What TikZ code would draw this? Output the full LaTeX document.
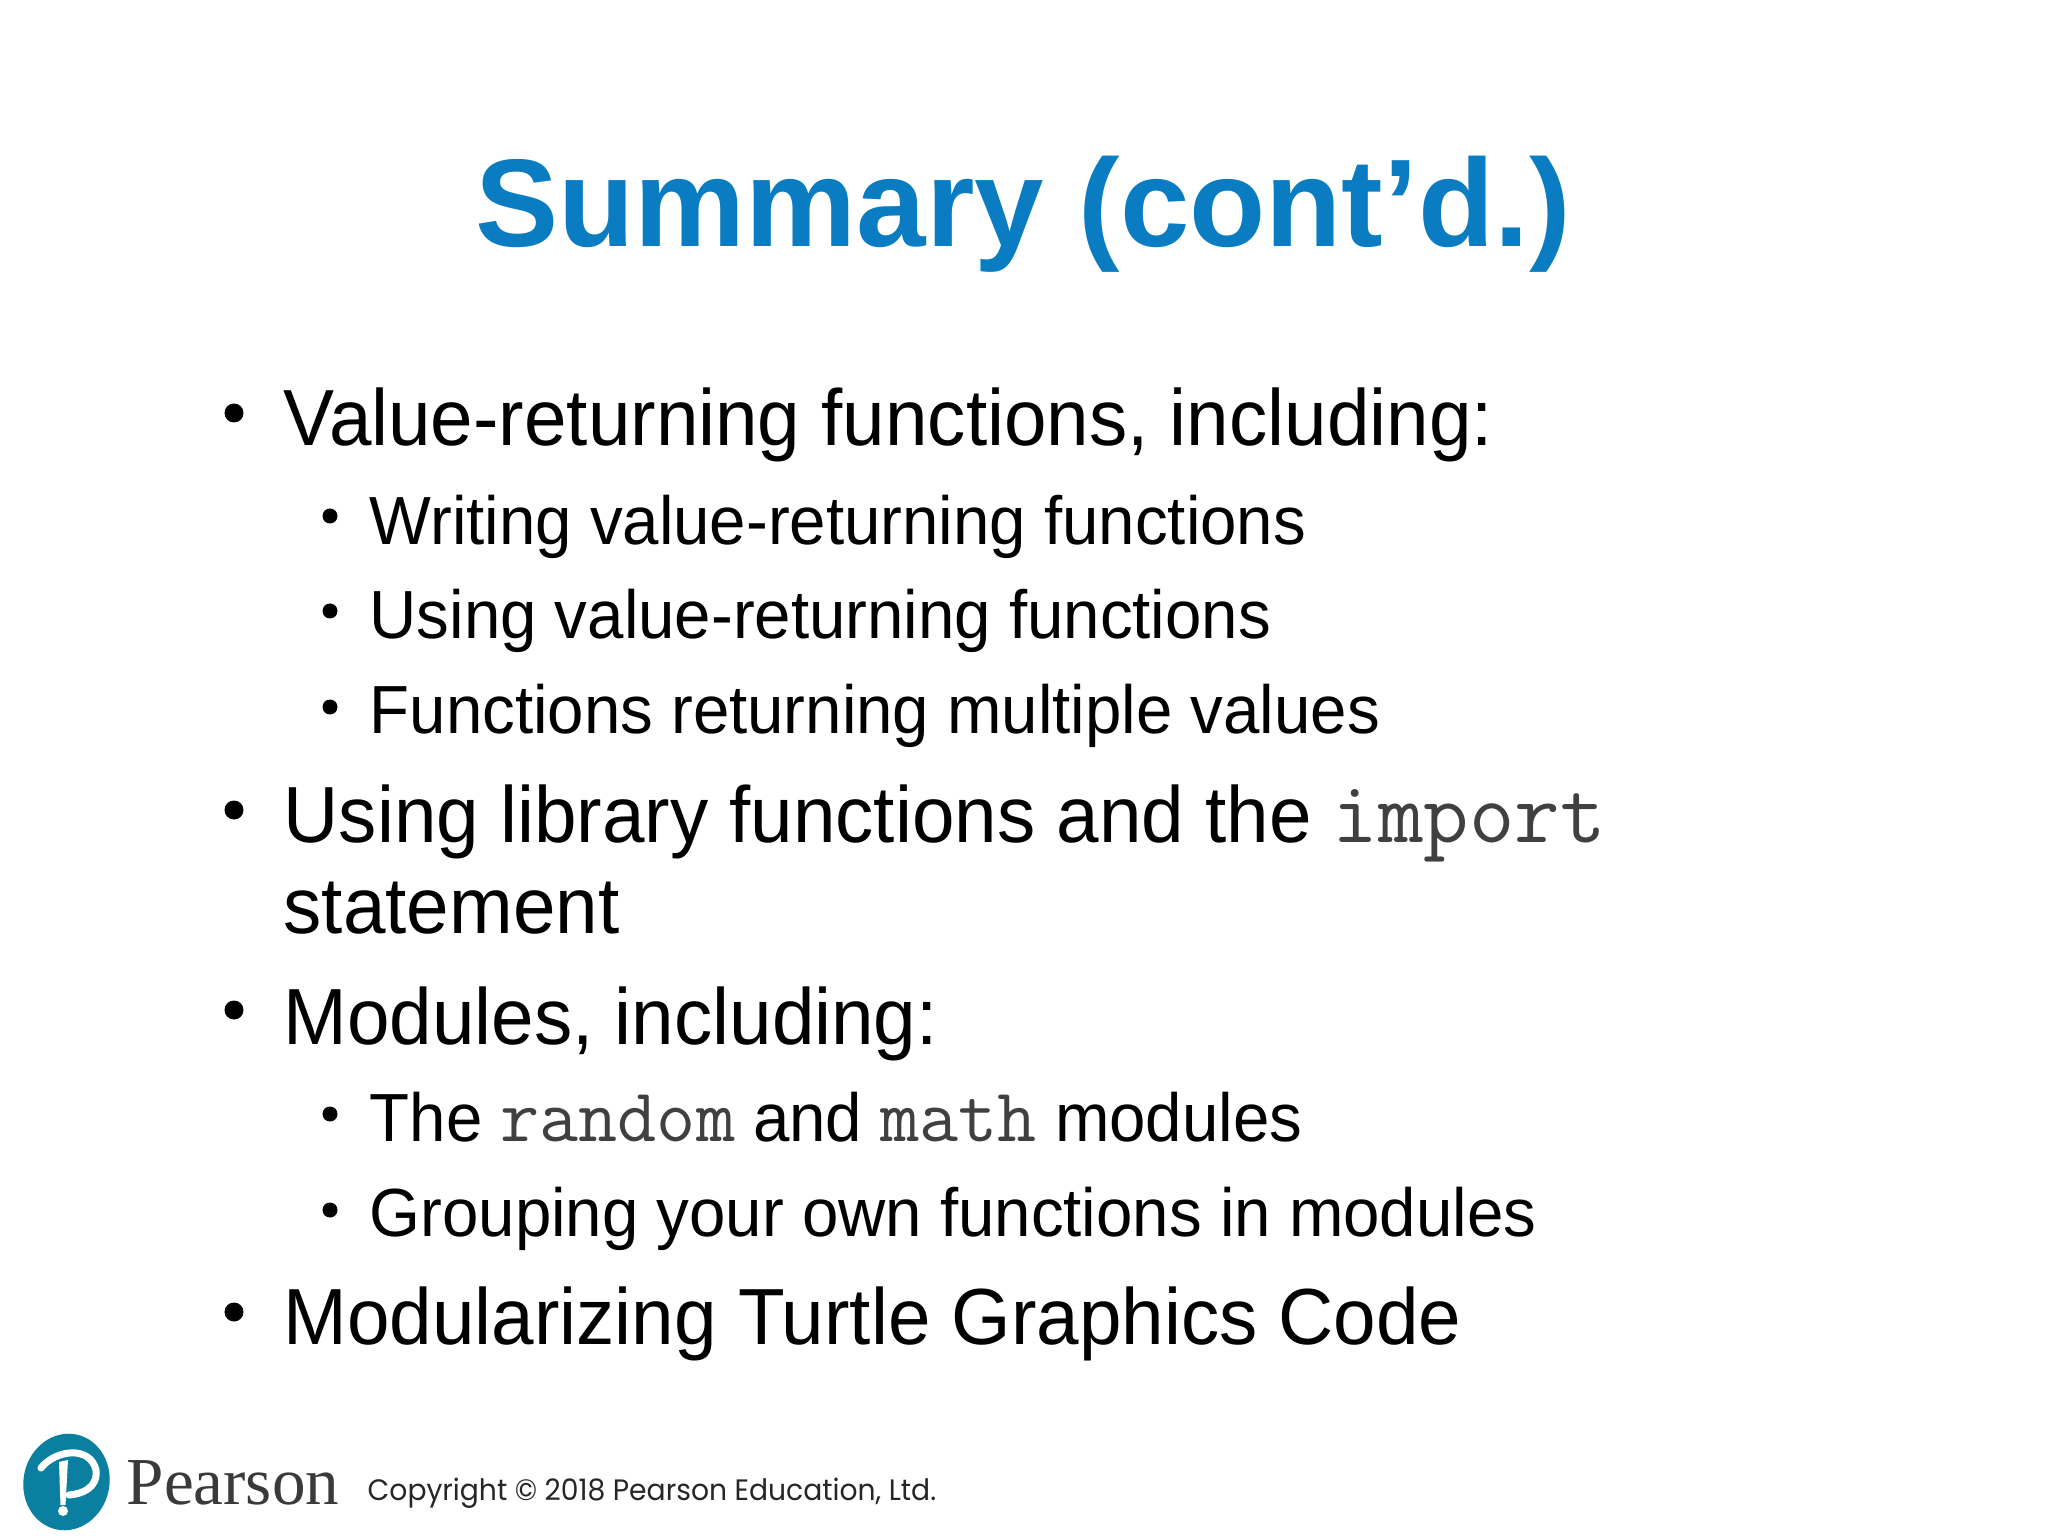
\documentclass[tikz,border=0pt]{standalone}
\usepackage{fontspec}
\setmainfont[FakeStretch=0.96]{Liberation Sans}
\newfontfamily\headfont{Liberation Sans}
\newfontfamily\logofont{Liberation Serif}
\newfontfamily\copyfont[FakeStretch=0.955]{Poppins}
\definecolor{titleblue}{HTML}{0A7DC2}
\definecolor{logoteal}{HTML}{0B7F9F}
\definecolor{logogray}{HTML}{3A3A3A}
\newcommand{\codeword}[2]{{\ttfamily\color{black!75}\fontsize{#1}{#1}\selectfont #2}}
\begin{document}
\begin{tikzpicture}[
  titletext/.style={inner sep=0pt,anchor=base,text=titleblue,font=\headfont\fontsize{35.5}{42}\selectfont\bfseries},
  mainitem/.style={inner sep=0pt,anchor=base west,font=\fontsize{22.65}{27}\selectfont},
  subitem/.style={inner sep=0pt,anchor=base west,font=\fontsize{19.38}{23}\selectfont},
  mainbullet/.style={fill=black,circle,inner sep=0pt,minimum size=0.19cm},
  subbullet/.style={fill=black,circle,inner sep=0pt,minimum size=0.15cm}
]
\useasboundingbox (0,0) rectangle (20.48,-15.36);
\node[titletext] (title) at (10.23,-2.47) {Summary (cont’d.)};

\node[mainitem] (value) at (2.83,-4.46) {Value-returning functions, including:};
\node[subitem] (writing) at (3.69,-5.44) {Writing value-returning functions};
\node[subitem] (using) at (3.69,-6.38) {Using value-returning functions};
\node[subitem] (multiple) at (3.69,-7.34) {Functions returning multiple values};
\node[mainitem] (library) at (2.83,-8.43) {Using library functions and the \codeword{25.1}{import}};
\node[mainitem] (statement) at (2.83,-9.33) {statement};
\node[mainitem] (modules) at (2.83,-10.44) {Modules, including:};
\node[subitem] (randmath) at (3.69,-11.41) {The \codeword{21.6}{random} and \codeword{21.6}{math} modules};
\node[subitem] (grouping) at (3.69,-12.36) {Grouping your own functions in modules};
\node[mainitem] (turtle) at (2.83,-13.44) {Modularizing Turtle Graphics Code};

\foreach \y/\name in {-4.13/a,-8.10/b,-10.10/c,-13.12/d}
  \node[mainbullet] (main\name) at (2.34,\y) {};
\foreach \y/\name in {-5.16/a,-6.11/b,-7.07/c,-11.14/d,-12.10/e}
  \node[subbullet] (sub\name) at (3.30,\y) {};

% logo
\fill[logoteal,rotate around={-12:(0.665,-14.82)}] (0.665,-14.82) ellipse (0.43 and 0.485);
\draw[white,line width=2pt,line cap=round] (0.41,-14.68) .. controls (0.55,-14.50) and (0.90,-14.45) .. (0.96,-14.70) .. controls (0.98,-14.88) and (0.82,-14.94) .. (0.69,-14.95);
\fill[white] (0.59,-14.62) -- (0.68,-14.60) -- (0.655,-15.05) -- (0.605,-15.05) -- cycle;
\fill[white] (0.63,-15.11) circle (0.05);
\node[inner sep=0pt,anchor=base west,text=logogray,font=\logofont\fontsize{19.1}{20}\selectfont] (pearson) at (1.26,-15.04) {Pearson};
\node[inner sep=0pt,anchor=base west,text=black!85,font=\copyfont\fontsize{8.4}{10}\selectfont] (copyright) at (3.67,-15.00) {Copyright © 2018 Pearson Education, Ltd.};
\end{tikzpicture}
\end{document}
